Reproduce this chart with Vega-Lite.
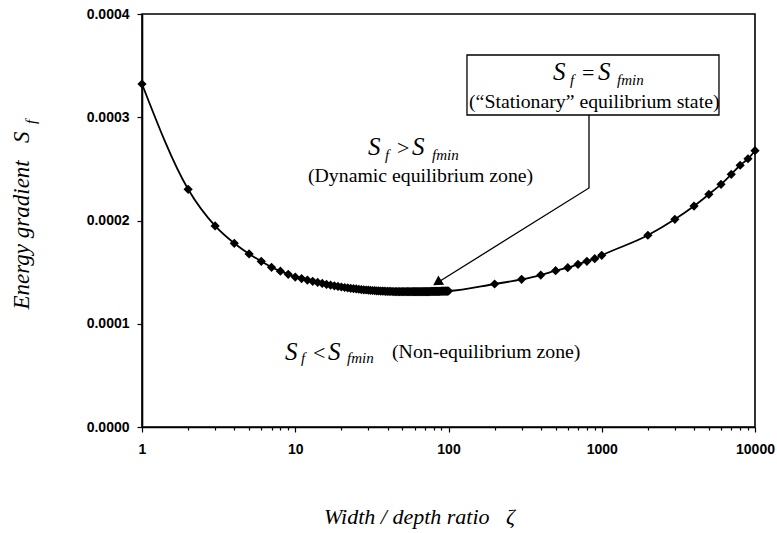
{
  "$schema": "https://vega.github.io/schema/vega-lite/v6.json",
  "width": 613,
  "height": 413,
  "autosize": {"type": "none"},
  "padding": {"left": 142, "top": 14, "right": 22, "bottom": 106},
  "background": "white",
  "config": {
    "view": {"stroke": "#000", "strokeWidth": 1.6},
    "axis": {"grid": false, "domainColor": "#000", "domainWidth": 1.6, "tickColor": "#000", "tickWidth": 1.2, "labelColor": "#000", "titleColor": "#000", "labelFont": "Liberation Sans", "labelFontWeight": "bold", "labelFontSize": 14, "labelFlush": false, "labelOverlap": false}
  },
  "datasets": {
    "curve": [
      {"zeta": 1, "sf": 0.0003322}, {"zeta": 2, "sf": 0.0002302}, {"zeta": 3, "sf": 0.0001947}, {"zeta": 4, "sf": 0.0001779},
      {"zeta": 5, "sf": 0.0001676}, {"zeta": 6, "sf": 0.0001605}, {"zeta": 7, "sf": 0.0001547}, {"zeta": 8, "sf": 0.0001509},
      {"zeta": 9, "sf": 0.0001479}, {"zeta": 10, "sf": 0.0001452}, {"zeta": 11, "sf": 0.0001438}, {"zeta": 12, "sf": 0.0001423},
      {"zeta": 13, "sf": 0.0001411}, {"zeta": 14, "sf": 0.00014}, {"zeta": 15, "sf": 0.000139}, {"zeta": 16, "sf": 0.0001381},
      {"zeta": 17, "sf": 0.0001374}, {"zeta": 18, "sf": 0.0001367}, {"zeta": 19, "sf": 0.0001361}, {"zeta": 20, "sf": 0.0001356},
      {"zeta": 21, "sf": 0.0001351}, {"zeta": 22, "sf": 0.0001347}, {"zeta": 23, "sf": 0.0001343}, {"zeta": 24, "sf": 0.000134},
      {"zeta": 25, "sf": 0.0001337}, {"zeta": 26, "sf": 0.0001334}, {"zeta": 27, "sf": 0.0001331}, {"zeta": 28, "sf": 0.0001329},
      {"zeta": 29, "sf": 0.0001327}, {"zeta": 30, "sf": 0.0001325}, {"zeta": 31, "sf": 0.0001323}, {"zeta": 32, "sf": 0.0001322},
      {"zeta": 33, "sf": 0.000132}, {"zeta": 34, "sf": 0.0001319}, {"zeta": 35, "sf": 0.0001318}, {"zeta": 36, "sf": 0.0001317},
      {"zeta": 37, "sf": 0.0001316}, {"zeta": 38, "sf": 0.0001315}, {"zeta": 39, "sf": 0.00013145}, {"zeta": 40, "sf": 0.00013139},
      {"zeta": 41, "sf": 0.00013133}, {"zeta": 42, "sf": 0.00013128}, {"zeta": 43, "sf": 0.00013123}, {"zeta": 44, "sf": 0.0001312},
      {"zeta": 45, "sf": 0.00013116}, {"zeta": 46, "sf": 0.00013113}, {"zeta": 47, "sf": 0.00013111}, {"zeta": 48, "sf": 0.00013109},
      {"zeta": 49, "sf": 0.00013107}, {"zeta": 50, "sf": 0.00013106}, {"zeta": 51, "sf": 0.00013105}, {"zeta": 52, "sf": 0.00013105},
      {"zeta": 53, "sf": 0.00013104}, {"zeta": 54, "sf": 0.00013104}, {"zeta": 55, "sf": 0.00013104}, {"zeta": 56, "sf": 0.00013104},
      {"zeta": 57, "sf": 0.00013104}, {"zeta": 58, "sf": 0.00013105}, {"zeta": 59, "sf": 0.00013105}, {"zeta": 60, "sf": 0.00013105},
      {"zeta": 61, "sf": 0.00013106}, {"zeta": 62, "sf": 0.00013107}, {"zeta": 63, "sf": 0.00013108}, {"zeta": 64, "sf": 0.00013108},
      {"zeta": 65, "sf": 0.00013109}, {"zeta": 66, "sf": 0.0001311}, {"zeta": 67, "sf": 0.00013111}, {"zeta": 68, "sf": 0.00013113},
      {"zeta": 69, "sf": 0.00013114}, {"zeta": 70, "sf": 0.00013115}, {"zeta": 71, "sf": 0.00013116}, {"zeta": 72, "sf": 0.00013118},
      {"zeta": 73, "sf": 0.00013119}, {"zeta": 74, "sf": 0.00013121}, {"zeta": 75, "sf": 0.00013122}, {"zeta": 76, "sf": 0.00013124},
      {"zeta": 77, "sf": 0.00013126}, {"zeta": 78, "sf": 0.00013127}, {"zeta": 79, "sf": 0.00013129}, {"zeta": 80, "sf": 0.00013131},
      {"zeta": 81, "sf": 0.00013132}, {"zeta": 82, "sf": 0.00013134}, {"zeta": 83, "sf": 0.00013136}, {"zeta": 84, "sf": 0.00013138},
      {"zeta": 85, "sf": 0.0001314}, {"zeta": 86, "sf": 0.00013142}, {"zeta": 87, "sf": 0.00013144}, {"zeta": 88, "sf": 0.00013146},
      {"zeta": 89, "sf": 0.00013148}, {"zeta": 90, "sf": 0.0001315}, {"zeta": 91, "sf": 0.00013152}, {"zeta": 92, "sf": 0.00013154},
      {"zeta": 93, "sf": 0.00013156}, {"zeta": 94, "sf": 0.00013159}, {"zeta": 95, "sf": 0.00013161}, {"zeta": 96, "sf": 0.00013163},
      {"zeta": 97, "sf": 0.00013165}, {"zeta": 98, "sf": 0.00013167}, {"zeta": 99, "sf": 0.0001317}, {"zeta": 100, "sf": 0.00013172},
      {"zeta": 200, "sf": 0.0001385}, {"zeta": 300, "sf": 0.000143}, {"zeta": 400, "sf": 0.0001472}, {"zeta": 500, "sf": 0.0001514},
      {"zeta": 600, "sf": 0.0001543}, {"zeta": 700, "sf": 0.0001576}, {"zeta": 800, "sf": 0.0001605}, {"zeta": 900, "sf": 0.000163},
      {"zeta": 1000, "sf": 0.0001663}, {"zeta": 2000, "sf": 0.0001857}, {"zeta": 3000, "sf": 0.0002011}, {"zeta": 4000, "sf": 0.000214},
      {"zeta": 5000, "sf": 0.0002254}, {"zeta": 6000, "sf": 0.000235}, {"zeta": 7000, "sf": 0.0002447}, {"zeta": 8000, "sf": 0.0002535},
      {"zeta": 9000, "sf": 0.0002598}, {"zeta": 10000, "sf": 0.0002676}
    ],
    "box": [{"zeta": 132, "zeta2": 5821, "sf": 0.0003603, "sf2": 0.0003022}],
    "leader": [
      {"zeta": 825.6, "sf": 0.0003022, "o": 1},
      {"zeta": 825.6, "sf": 0.0002315, "o": 2},
      {"zeta": 82, "sf": 0.0001385, "o": 3}
    ],
    "head": [{"zeta": 84.4, "sf": 0.0001398}],
    "bigS": [
      {"zeta": 29.84, "sf": 0.0002634}, {"zeta": 57.8, "sf": 0.0002634},
      {"zeta": 480.8, "sf": 0.0003361}, {"zeta": 945.2, "sf": 0.0003361},
      {"zeta": 8.575, "sf": 0.0000649}, {"zeta": 16.36, "sf": 0.0000649}
    ],
    "subs": [
      {"label": "f", "zeta": 38.5, "sf": 0.0002586}, {"label": "fmin", "zeta": 78.1, "sf": 0.0002586},
      {"label": "f", "zeta": 620.5, "sf": 0.0003312}, {"label": "fmin", "zeta": 1257.6, "sf": 0.0003312},
      {"label": "f", "zeta": 10.9, "sf": 0.000062}, {"label": "fmin", "zeta": 21.76, "sf": 0.000062}
    ],
    "ops": [
      {"label": ">", "zeta": 46.1, "sf": 0.0002634},
      {"label": "=", "zeta": 743.2, "sf": 0.0003361},
      {"label": "<", "zeta": 13.05, "sf": 0.0000649}
    ],
    "notes": [
      {"label": "(Dynamic equilibrium zone)", "zeta": 12.11, "sf": 0.0002373},
      {"label": "(“Stationary” equilibrium state)", "zeta": 136.1, "sf": 0.000309},
      {"label": "(Non-equilibrium zone)", "zeta": 42.8, "sf": 0.0000668}
    ],
    "ysub": [{"label": "f", "zeta": 0.2034, "sf": 0.0002955}]
  },
  "layer": [
    {
      "data": {"name": "curve"},
      "mark": {"type": "line", "color": "#000", "strokeWidth": 1.8, "interpolate": "monotone"},
      "encoding": {
        "x": {"field": "zeta", "type": "quantitative", "scale": {"type": "log", "domain": [1, 10000]},
          "axis": {
            "title": "Width / depth ratio\u00a0\u00a0\u00a0ζ",
            "titleFont": "Liberation Serif", "titleFontStyle": "italic", "titleFontWeight": "normal", "titleFontSize": 22,
            "titleX": 277, "titleY": 96, "titleAlign": "center", "titleBaseline": "alphabetic",
            "values": [1,2,3,4,5,6,7,8,9,10,20,30,40,50,60,70,80,90,100,200,300,400,500,600,700,800,900,1000,2000,3000,4000,5000,6000,7000,8000,9000,10000],
            "format": "d",
            "labelExpr": "(datum.value == 1 || datum.value == 10 || datum.value == 100 || datum.value == 1000 || datum.value == 10000) ? datum.label : ''",
            "tickSize": {"condition": {"test": "datum.value == 1 || datum.value == 10 || datum.value == 100 || datum.value == 1000 || datum.value == 10000", "value": 5}, "value": 3},
            "labelPadding": 10
          }},
        "y": {"field": "sf", "type": "quantitative", "scale": {"domain": [0, 0.0004]},
          "axis": {
            "title": "Energy gradient\u00a0\u00a0\u00a0S",
            "titleFont": "Liberation Serif", "titleFontStyle": "italic", "titleFontWeight": "normal", "titleFontSize": 23,
            "titleX": -114, "titleY": 206, "titleAngle": 270, "titleAlign": "center", "titleBaseline": "alphabetic",
            "values": [0, 0.0001, 0.0002, 0.0003, 0.0004], "format": ".4f", "tickSize": 5, "labelPadding": 8
          }}
      }
    },
    {
      "data": {"name": "curve"},
      "mark": {"type": "point", "shape": "diamond", "filled": true, "color": "#000", "size": 85, "opacity": 1},
      "encoding": {
        "x": {"field": "zeta", "type": "quantitative", "scale": {"type": "log", "domain": [1, 10000]}},
        "y": {"field": "sf", "type": "quantitative", "scale": {"domain": [0, 0.0004]}}
      }
    },
    {
      "data": {"name": "box"},
      "mark": {"type": "rect", "fill": "white", "stroke": "#000", "strokeWidth": 1.3},
      "encoding": {
        "x": {"field": "zeta", "type": "quantitative"},
        "x2": {"field": "zeta2"},
        "y": {"field": "sf", "type": "quantitative"},
        "y2": {"field": "sf2"}
      }
    },
    {
      "data": {"name": "leader"},
      "mark": {"type": "line", "color": "#000", "strokeWidth": 1.3},
      "encoding": {
        "x": {"field": "zeta", "type": "quantitative"},
        "y": {"field": "sf", "type": "quantitative"},
        "order": {"field": "o", "type": "quantitative"}
      }
    },
    {
      "data": {"name": "head"},
      "mark": {"type": "point", "shape": "triangle-up", "filled": true, "color": "#000", "size": 120, "angle": 238, "opacity": 1},
      "encoding": {
        "x": {"field": "zeta", "type": "quantitative"},
        "y": {"field": "sf", "type": "quantitative"}
      }
    },
    {
      "data": {"name": "bigS"},
      "mark": {"type": "text", "text": "S", "font": "Liberation Serif", "fontStyle": "italic", "fontSize": 25, "align": "left", "baseline": "alphabetic", "color": "#000"},
      "encoding": {
        "x": {"field": "zeta", "type": "quantitative"},
        "y": {"field": "sf", "type": "quantitative"}
      }
    },
    {
      "data": {"name": "subs"},
      "mark": {"type": "text", "font": "Liberation Serif", "fontStyle": "italic", "fontSize": 15, "align": "left", "baseline": "alphabetic", "color": "#000"},
      "encoding": {
        "x": {"field": "zeta", "type": "quantitative"},
        "y": {"field": "sf", "type": "quantitative"},
        "text": {"field": "label"}
      }
    },
    {
      "data": {"name": "ops"},
      "mark": {"type": "text", "font": "Liberation Serif", "fontSize": 22, "align": "left", "baseline": "alphabetic", "color": "#000"},
      "encoding": {
        "x": {"field": "zeta", "type": "quantitative"},
        "y": {"field": "sf", "type": "quantitative"},
        "text": {"field": "label"}
      }
    },
    {
      "data": {"name": "notes"},
      "mark": {"type": "text", "font": "Liberation Serif", "fontSize": 19.8, "align": "left", "baseline": "alphabetic", "color": "#000"},
      "encoding": {
        "x": {"field": "zeta", "type": "quantitative"},
        "y": {"field": "sf", "type": "quantitative"},
        "text": {"field": "label"}
      }
    },
    {
      "data": {"name": "ysub"},
      "mark": {"type": "text", "font": "Liberation Serif", "fontStyle": "italic", "fontSize": 15, "align": "center", "baseline": "alphabetic", "angle": 270, "color": "#000"},
      "encoding": {
        "x": {"field": "zeta", "type": "quantitative"},
        "y": {"field": "sf", "type": "quantitative"},
        "text": {"field": "label"}
      }
    }
  ]
}
